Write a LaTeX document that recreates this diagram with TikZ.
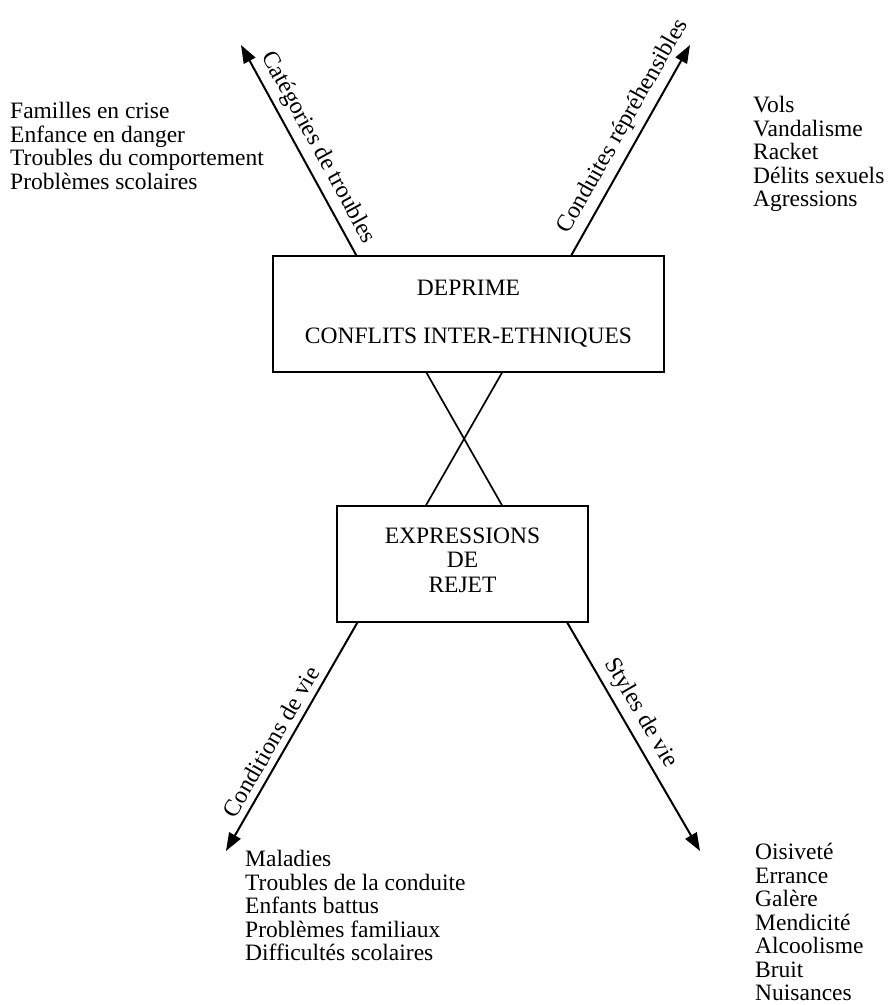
\documentclass[tikz,border=0pt]{standalone}
\usepackage{fontspec}
\setmainfont{Liberation Serif}
\usetikzlibrary{arrows.meta,calc}
\begin{document}
\begin{tikzpicture}[x=1pt,y=-1pt,
  txt/.style={font=\fontsize{23.5}{23.5}\selectfont, inner sep=0pt},
  lst/.style={txt, align=left, anchor=north west},
  boxnode/.style={draw, line width=1.4pt, inner sep=0pt},
  arr/.style={line width=2pt, -{Triangle[length=18pt,width=13pt]}},
  lbl/.style={font=\fontsize{24}{24}\selectfont, sloped, anchor=south, inner xsep=0pt, inner ysep=6pt}]
\useasboundingbox (0,0) rectangle (890,1005);
% boxes
\node[boxnode, minimum width=391pt, minimum height=116pt] (top) at (468.5,314) {};
\node[txt, anchor=base] (t1) at (468.5,295) {DEPRIME};
\node[txt, anchor=base] (t2) at (468.5,343) {CONFLITS INTER-ETHNIQUES};
\node[boxnode, minimum width=251pt, minimum height=116pt] (bot) at (462.5,564) {};
\node[txt, anchor=base] (b1) at (462.5,543) {EXPRESSIONS};
\node[txt, anchor=base] (b2) at (462.5,567.5) {DE};
\node[txt, anchor=base] (b3) at (462.5,592) {REJET};
% crossing lines
\draw[line width=1.7pt] ($(top.south)+(-42,0)$) -- ($(bot.north)+(39.5,0)$);
\draw[line width=1.7pt] ($(top.south)+(33.5,0)$) -- ($(bot.north)+(-36.5,0)$);
% arrow tips
\coordinate (tipUL) at (241,45);
\coordinate (tipUR) at (690,45);
\coordinate (tipLL) at (226,851);
\coordinate (tipLR) at (700,851);
\draw[arr] ($(top.north west)+(84,0)$) -- node[lbl, pos=0.47] {Catégories de troubles} (tipUL);
\draw[arr] ($(top.north west)+(299,0)$) -- node[lbl, pos=0.57] {Conduites répréhensibles} (tipUR);
\draw[arr] ($(bot.south west)+(21,0)$) -- node[lbl, pos=0.555] {Conditions de vie} (tipLL);
\draw[arr] ($(bot.south west)+(231,0)$) -- node[lbl, pos=0.436] {Styles de vie} (tipLR);
% lists
\node[lst] (lTL) at (10,102) {Familles en crise\\Enfance en danger\\Troubles du comportement\\Problèmes scolaires};
\node[lst] (lTR) at (753,96) {Vols\\Vandalisme\\Racket\\Délits sexuels\\Agressions};
\node[lst] (lBL) at (245,850) {Maladies\\Troubles de la conduite\\Enfants battus\\Problèmes familiaux\\Difficultés scolaires};
\node[lst] (lBR) at (755,843) {Oisiveté\\Errance\\Galère\\Mendicité\\Alcoolisme\\Bruit\\Nuisances};
\end{tikzpicture}
\end{document}
